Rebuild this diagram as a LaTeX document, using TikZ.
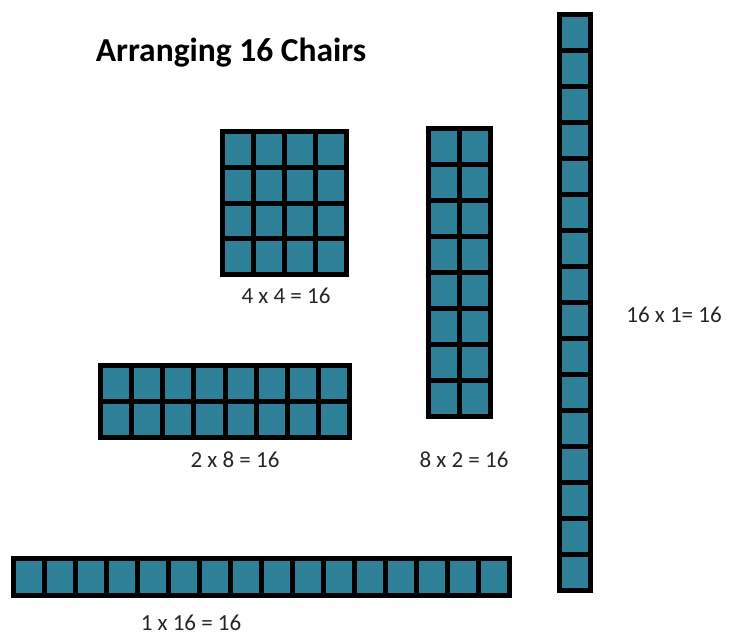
\documentclass[tikz,border=0pt]{standalone}
\usepackage{fontspec}
\setmainfont{Carlito}

\definecolor{seatblue}{RGB}{46,128,153}
\tikzset{
  seat/.style={fill=seatblue},
  sum/.style={text=black!85, font=\fontsize{23}{25}\selectfont},
}
% one block of chairs: x0,y0,x1,y1,cols,rows
\newcommand{\seatgrid}[6]{%
  \fill[black] (#1,#2) rectangle (#3,#4);
  \pgfmathsetmacro\cw{(#3-#1-5)/#5}
  \pgfmathsetmacro\ch{(#4-#2-5)/#6}
  \foreach \i in {1,...,#5}{\foreach \j in {1,...,#6}{
    \fill[seat] ({#1+5+(\i-1)*\cw},{#2+5+(\j-1)*\ch}) rectangle ++(\cw-5,\ch-5);
  }}
}

\begin{document}
\begin{tikzpicture}[x=1pt,y=-1pt]
  \useasboundingbox (0,0) rectangle (729,635);

  \node[font=\fontsize{33.5}{36}\bfseries\selectfont] (title) at (231,53) {Arranging 16 Chairs};

  \seatgrid{220}{129}{349}{277}{4}{4}
  \seatgrid{426}{126}{493}{419}{2}{8}
  \seatgrid{557}{12}{593}{593}{1}{16}
  \seatgrid{98}{363}{352}{440}{8}{2}
  \seatgrid{11}{556}{512}{598}{16}{1}

  \node[sum] (fourfour) at (286,296) {4 x 4 = 16};
  \node[sum] (twoeight) at (235,460) {2 x 8 = 16};
  \node[sum] (eighttwo) at (464,460) {8 x 2 = 16};
  \node[sum] (sixteenone) at (674,315) {16 x 1= 16};
  \node[sum] (onesixteen) at (191,623) {1 x 16 = 16};
\end{tikzpicture}
\end{document}
